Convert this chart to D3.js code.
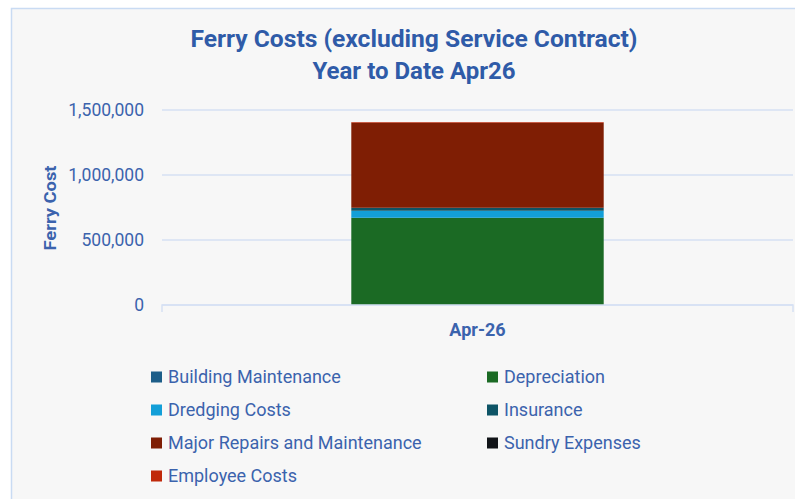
<!DOCTYPE html>
<meta charset="utf-8">
<style>
body { margin:0; background:#fff; font-family:"Open Sans", "Noto Sans", sans-serif; }
.grid line { stroke:#d6e1f3; stroke-width:1.5px; }
.tick text { fill:#3b63ad; }
</style>
<svg width="795" height="499"></svg>
<script src="https://cdn.jsdelivr.net/npm/d3@7"></script>
<script>

// data
var categories = ["Apr-26"];
var seriesNames = ["Building Maintenance", "Depreciation", "Dredging Costs", "Insurance",
                   "Major Repairs and Maintenance", "Sundry Expenses", "Employee Costs"];
var seriesColors = ["#1d5e89", "#1b6a24", "#139fd8", "#0d5466", "#7f1e04", "#111418", "#c0290a"];
var seriesValues = [0, 671000, 54000, 23000, 654000, 0, 5000];
var yTicks = [0, 500000, 1000000, 1500000];

var svg = d3.select("svg"),
    width = +svg.attr("width"),
    height = +svg.attr("height");

var blue = "#3b63ad";

// panel
svg.append("rect")
    .attr("x", 11.5).attr("y", 8.5)
    .attr("width", 820).attr("height", 520)
    .attr("fill", "#f7f7f7")
    .attr("stroke", "#c9dbf3")
    .attr("stroke-width", 1.5);

// titles
svg.append("text")
    .attr("x", 414).attr("y", 47)
    .attr("text-anchor", "middle")
    .attr("font-family", "Roboto, sans-serif")
    .attr("font-weight", "bold")
    .attr("font-size", 24)
    .attr("fill", "#2f5ba8")
    .attr("textLength", 447)
    .attr("lengthAdjust", "spacingAndGlyphs")
    .text("Ferry Costs (excluding Service Contract)");
svg.append("text")
    .attr("x", 414).attr("y", 79)
    .attr("text-anchor", "middle")
    .attr("font-family", "Roboto, sans-serif")
    .attr("font-weight", "bold")
    .attr("font-size", 24)
    .attr("fill", "#2f5ba8")
    .text("Year to Date Apr26");

var y = d3.scaleLinear()
    .domain([0, 1500000])
    .range([305, 110]);

var x = d3.scaleBand()
    .domain(categories)
    .range([162, 793])
    .paddingInner(0)
    .paddingOuter(0.75);

// gridlines
svg.append("g")
    .attr("class", "grid")
    .selectAll("line")
    .data(yTicks)
    .enter().append("line")
    .attr("x1", 162).attr("x2", 793)
    .attr("y1", function(d) { return y(d); })
    .attr("y2", function(d) { return y(d); });

// y axis labels
var yAxis = svg.append("g")
    .attr("transform", "translate(162,0)")
    .call(d3.axisLeft(y).tickValues(yTicks).tickSize(0).tickPadding(18)
      .tickFormat(d3.format(",")));
yAxis.select(".domain").remove();
yAxis.selectAll("text").attr("font-size", 17.5).attr("font-family", "Roboto, sans-serif");

svg.append("text")
    .attr("transform", "translate(56,208) rotate(-90)")
    .attr("text-anchor", "middle")
    .attr("font-family", "Roboto, sans-serif")
    .attr("font-weight", "bold")
    .attr("font-size", 17)
    .attr("fill", blue)
    .attr("textLength", 85)
    .attr("lengthAdjust", "spacingAndGlyphs")
    .text("Ferry Cost");

// stacked bar
var row = {};
seriesNames.forEach(function(s, i) { row[s] = seriesValues[i]; });
row.category = categories[0];
var stacked = d3.stack().keys(seriesNames)([row]);

svg.append("g")
    .selectAll("rect")
    .data(stacked)
    .enter().append("rect")
    .attr("x", x(categories[0]))
    .attr("width", x.bandwidth())
    .attr("y", function(d) { return y(d[0][1]); })
    .attr("height", function(d) { return y(d[0][0]) - y(d[0][1]); })
    .attr("fill", function(d, i) { return seriesColors[i]; });

// x axis
var xAxis = svg.append("g")
    .attr("transform", "translate(0,305)")
    .call(d3.axisBottom(x).tickSize(0).tickPadding(18));
xAxis.select(".domain").attr("stroke", "#d6e1f3").attr("stroke-width", 1.5)
    .attr("d", "M162,7V0H793V7");
xAxis.selectAll("text")
    .attr("font-size", 18)
    .attr("font-weight", "bold")
    .attr("font-family", "Roboto, sans-serif");

// legend
var legend = svg.selectAll(".legend")
    .data(seriesNames)
    .enter().append("g")
    .attr("class", "legend")
    .attr("transform", function(d, i) {
      return "translate(" + (i % 2 === 0 ? 151 : 487) + "," + (377 + Math.floor(i / 2) * 33) + ")";
    });

legend.append("rect")
    .attr("x", 0).attr("y", -5.5)
    .attr("width", 11).attr("height", 11)
    .attr("fill", function(d, i) { return seriesColors[i]; });

legend.append("text")
    .attr("x", 17)
    .attr("dy", "0.35em")
    .attr("font-size", 18)
    .attr("font-family", "Roboto, sans-serif")
    .attr("fill", blue)
    .text(function(d) { return d; });

</script>
